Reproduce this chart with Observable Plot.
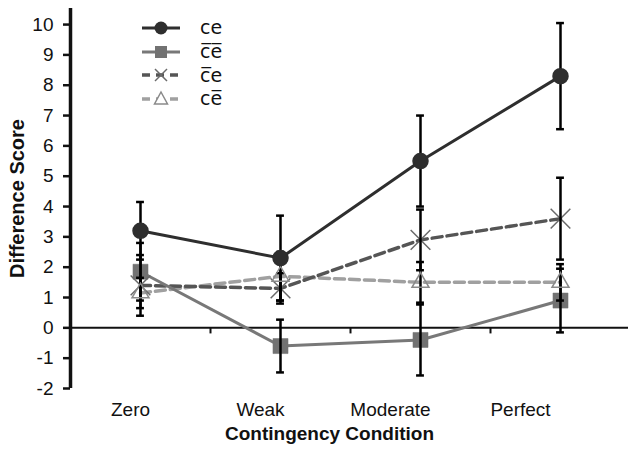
<!DOCTYPE html>
<html>
<head>
<meta charset="utf-8">
<script src="https://cdn.jsdelivr.net/npm/d3@7"></script>
<script src="https://cdn.jsdelivr.net/npm/@observablehq/plot@0.6"></script>
<style>
  body { margin: 0; background: #fff; }
  #wrap { position: relative; width: 628px; height: 459px; }
  #legend { position: absolute; left: 140px; top: 16px; font-family: "DejaVu Sans", sans-serif; font-size: 19px; color: #111; }
  .row { display: flex; align-items: center; height: 23.7px; }
  .row svg { margin-right: 18px; }
  .row span { line-height: 19px; display: inline-block; }
</style>
</head>
<body>
<div id="wrap"></div>
<script>
const categories = ["Zero", "Weak", "Moderate", "Perfect"];
const yTicks = [-2, -1, 0, 1, 2, 3, 4, 5, 6, 7, 8, 9, 10];
// series: ce (circle), c̄ē (square), c̄e (cross), cē (triangle)
const ceVals       = [3.2, 2.3, 5.5, 8.3];
const ceErr        = [0.95, 1.4, 1.5, 1.75];
const notCnotEVals = [1.85, -0.6, -0.4, 0.9];
const notCnotEErr  = [0.95, 0.87, 1.17, 1.05];
const notCEVals    = [1.4, 1.3, 2.9, 3.6];
const notCEErr     = [1.0, 0.5, 1.0, 1.35];
const cNotEVals    = [1.15, 1.7, 1.5, 1.5];
const cNotEErr     = [0.5, 0.8, 0.67, 0.6];
const legendLabels = ["ce", "c\u0305e\u0305", "c\u0305e", "ce\u0305"];

const rows = (vals, errs) => vals.map((v, i) => ({x: i, y: v, lo: v - errs[i], hi: v + errs[i]}));
const sCE = rows(ceVals, ceErr);
const sNN = rows(notCnotEVals, notCnotEErr);
const sNE = rows(notCEVals, notCEErr);
const sCN = rows(cNotEVals, cNotEErr);
const all = [...sCE, ...sNN, ...sNE, ...sCN];
const capW = 0.028;
// in the reference the category labels drift progressively left of their points
const labelX = (d, i) => i - (10 + 10 * i) / 140;

const chart = Plot.plot({
  width: 628, height: 459,
  marginLeft: 70, marginRight: 0, marginTop: 8, marginBottom: 71,
  style: {fontFamily: "'Liberation Sans', Arial, sans-serif", background: "#fff", color: "#111"},
  x: {domain: [-0.5, 3.5], range: [70, 630], axis: null},
  y: {domain: [-2, 10.53], axis: null},
  marks: [
    Plot.axisY({ticks: yTicks, tickSize: 7, tickPadding: 10, fontSize: 19, label: null, tickFormat: d => String(d), strokeWidth: 2.5}),
    Plot.text(categories, {x: labelX, frameAnchor: "bottom", dy: 27, fontSize: 19, text: d => d}),
    Plot.text(["Contingency Condition"], {frameAnchor: "bottom", dy: 51, dx: -20, fontWeight: "bold", fontSize: 19}),
    Plot.text(["Difference Score"], {frameAnchor: "left", textAnchor: "middle", dx: -53, rotate: -90, fontWeight: "bold", fontSize: 20}),
    Plot.ruleY([0], {stroke: "#111", strokeWidth: 2}),
    Plot.ruleX([0.5, 1.5, 2.5], {y1: 0, y2: -0.2, stroke: "#111", strokeWidth: 2}),
    Plot.ruleX([-0.5], {stroke: "#111", strokeWidth: 3.5}),
    Plot.line(sCN, {x: "x", y: "y", stroke: "#a0a0a0", strokeWidth: 3.5, strokeDasharray: "10,5"}),
    Plot.line(sNE, {x: "x", y: "y", stroke: "#555", strokeWidth: 3.5, strokeDasharray: "10,5"}),
    Plot.line(sNN, {x: "x", y: "y", stroke: "#787878", strokeWidth: 3}),
    Plot.line(sCE, {x: "x", y: "y", stroke: "#2e2e2e", strokeWidth: 3}),
    Plot.dot(sNN, {x: "x", y: "y", symbol: "square", r: 8.5, fill: "#727272", stroke: "#727272", strokeWidth: 0.5}),
    Plot.dot(sNE, {x: "x", y: "y", symbol: "times", r: 9, stroke: "#6a6a6a", strokeWidth: 1.5}),
    Plot.ruleX(all, {x: "x", y1: "lo", y2: "hi", stroke: "#000", strokeWidth: 2.5}),
    Plot.ruleY(all, {y: "lo", x1: d => d.x - capW, x2: d => d.x + capW, stroke: "#000", strokeWidth: 2.5}),
    Plot.ruleY(all, {y: "hi", x1: d => d.x - capW, x2: d => d.x + capW, stroke: "#000", strokeWidth: 2.5}),
    Plot.dot(sCN, {x: "x", y: "y", symbol: "triangle", r: 6.3, fill: "none", stroke: "#8a8a8a", strokeWidth: 1.5}),
    Plot.dot(sCE, {x: "x", y: "y", symbol: "circle", r: 7.5, fill: "#2e2e2e", stroke: "#2e2e2e"})
  ]
});
const wrap = document.getElementById("wrap");
wrap.appendChild(chart);

const symbols = [
  `<line x1="2" y1="10" x2="40" y2="10" stroke="#2e2e2e" stroke-width="3"/><circle cx="21" cy="10" r="6.5" fill="#2e2e2e"/>`,
  `<line x1="2" y1="10" x2="40" y2="10" stroke="#787878" stroke-width="3"/><rect x="15" y="4" width="12" height="12" fill="#727272"/>`,
  `<line x1="2" y1="10" x2="40" y2="10" stroke="#555" stroke-width="3.5" stroke-dasharray="8,6"/><line x1="15" y1="4" x2="27" y2="16" stroke="#6a6a6a" stroke-width="1.5"/><line x1="27" y1="4" x2="15" y2="16" stroke="#6a6a6a" stroke-width="1.5"/>`,
  `<line x1="2" y1="10" x2="40" y2="10" stroke="#a0a0a0" stroke-width="3.5" stroke-dasharray="8,6"/><path d="M21,3 L27.5,15 L14.5,15 Z" fill="white" stroke="#8a8a8a" stroke-width="1.5"/>`
];
const legend = document.createElement("div");
legend.id = "legend";
legend.innerHTML = legendLabels.map((t, i) =>
  `<div class="row"><svg width="42" height="20">${symbols[i]}</svg><span>${t}</span></div>`).join("");
wrap.appendChild(legend);
</script>
</body>
</html>
